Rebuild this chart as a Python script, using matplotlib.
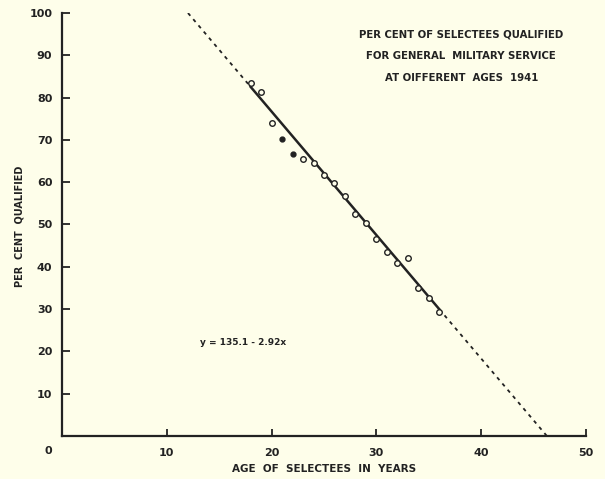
import matplotlib
matplotlib.use('Agg')
import matplotlib.pyplot as plt
import numpy as np

# ages 18-36, per cent qualified
ages = [18, 19, 20, 21, 22, 23, 24, 25, 26, 27, 28, 29, 30, 31, 32, 33, 34, 35, 36]
pct = [83.4, 81.4, 73.9, 70.2, 66.7, 65.6, 64.6, 61.7, 59.7, 56.7, 52.6, 50.4,
       46.5, 43.6, 41.0, 42.0, 34.9, 32.6, 29.4]
filled = [21, 22]  # the two points drawn solid

intercept, slope = 135.1, -2.92
title_lines = ['PER CENT OF SELECTEES QUALIFIED',
               'FOR GENERAL  MILITARY SERVICE',
               'AT OIFFERENT  AGES  1941']
x_ticks = [10, 20, 30, 40, 50]
y_ticks = [10, 20, 30, 40, 50, 60, 70, 80, 90, 100]

BG = '#FEFEEA'
INK = '#222222'

plt.rcParams.update({'font.family': ['DejaVu Sans'], 'font.weight': 'bold',
                     'axes.labelweight': 'bold'})

fig = plt.figure(figsize=(6.05, 4.79), dpi=100, facecolor=BG)
ax = fig.add_axes([62 / 605, 43 / 479, 524 / 605, 423 / 479], facecolor=BG)
ax.set_xlim(0, 50)
ax.set_ylim(0, 100)

# regression line: solid over the data, dashed beyond
x_solid = np.array([ages[0], ages[-1]])
ax.plot(x_solid, intercept + slope * x_solid, color=INK, lw=1.8, zorder=2)
x_hi = (100 - intercept) / slope
x_lo = -intercept / slope
for xs in ([x_hi, ages[0]], [ages[-1], x_lo]):
    xs = np.array(xs)
    ax.plot(xs, intercept + slope * xs, color=INK, lw=1.3,
            ls=(0, (2, 2.5)), zorder=2)

for a, p in zip(ages, pct):
    fc = INK if a in filled else BG
    ms = 3.5 if a in filled else 4
    ax.plot(a, p, 'o', ms=ms, mfc=fc, mec=INK, mew=1.0, zorder=3)

for s in ['top', 'right']:
    ax.spines[s].set_visible(False)
for s in ['left', 'bottom']:
    ax.spines[s].set_color(INK)
    ax.spines[s].set_linewidth(1.6)

ax.set_xticks(x_ticks)
ax.set_yticks(y_ticks)
ax.tick_params(axis='x', direction='in', length=5, width=1.3, pad=9,
               labelsize=8, colors=INK)
ax.tick_params(axis='y', direction='in', length=6, width=1.3, pad=7,
               labelsize=8, colors=INK)

fig.text(48 / 605, 1 - 451 / 479, '0', ha='center', va='center',
         fontsize=8, color=INK)

ax.set_xlabel('AGE  OF  SELECTEES  IN  YEARS', fontsize=7.5, color=INK, labelpad=4)
fig.text(20 / 605, 1 - 226 / 479, 'PER  CENT  QUALIFIED', rotation=90,
         ha='center', va='center', fontsize=7, color=INK)

for i, line in enumerate(title_lines):
    ax.text(38.1, 100 - (35 + 21.5 * i - 13) / 4.23, line, ha='center',
            va='center', fontsize=7.3, color=INK)

ax.text(17.3, 22, 'y = 135.1 - 2.92x', ha='center', va='center',
        fontsize=6.5, color=INK)

fig.savefig('out.png', dpi=100, facecolor=BG)
